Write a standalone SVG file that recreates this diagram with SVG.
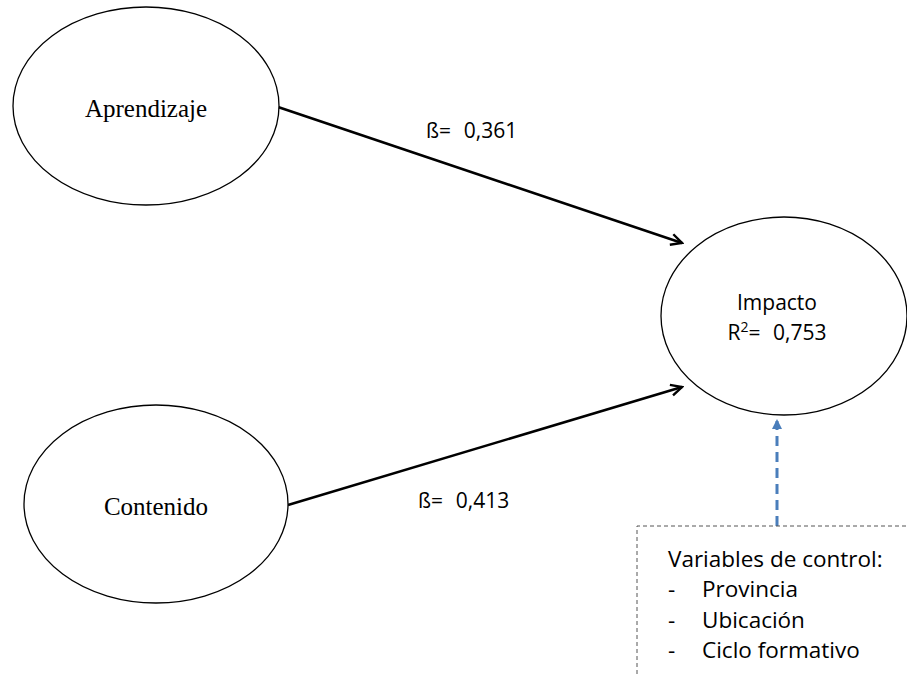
<svg xmlns="http://www.w3.org/2000/svg" width="907" height="674" viewBox="0 0 907 674">
<style>
.node{fill:#fff;stroke:#000;stroke-width:1.3}
.serif{font-family:"Liberation Serif","Times New Roman",serif;font-size:25px;fill:#000}
.sans{font-family:"Open Sans","Noto Sans","Liberation Sans",sans-serif;font-size:21px;fill:#000}
.box{font-family:"Open Sans","Noto Sans","Liberation Sans",sans-serif;font-size:22.5px;fill:#000}
.conn{stroke:#000;stroke-width:2.6;fill:none}
</style>
<defs>
<marker id="ah" markerWidth="14" markerHeight="14" refX="12" refY="7" orient="auto" markerUnits="userSpaceOnUse" viewBox="0 0 14 14">
<path d="M1,1.5 L12,7 L1,12.5" fill="none" stroke="#000" stroke-width="2.4"/>
</marker>
<marker id="bh" markerWidth="10" markerHeight="10" refX="8" refY="5" orient="auto" markerUnits="userSpaceOnUse" viewBox="0 0 10 10">
<path d="M0,0 L10,5 L0,10 Z" fill="#4a7ebb"/>
</marker>
</defs>
<rect width="907" height="674" fill="#fff"/>
<g id="connectors">
<line class="conn" x1="278" y1="107" x2="682" y2="243" marker-end="url(#ah)"/>
<line class="conn" x1="288" y1="505" x2="682" y2="387" marker-end="url(#ah)"/>
<line x1="777" y1="526" x2="777" y2="421" stroke="#4a7ebb" stroke-width="3" stroke-dasharray="10,6" marker-end="url(#bh)"/>
<text class="sans" x="426" y="138" font-size="20.5">ß=&#xF02D;0,361</text>
<text class="sans" x="418" y="508" font-size="20.5">ß=&#xF02D;0,413</text>
</g>
<g id="aprendizaje">
<ellipse class="node" cx="146" cy="106" rx="133" ry="99"/>
<text class="serif" x="146" y="117" text-anchor="middle">Aprendizaje</text>
</g>
<g id="contenido">
<ellipse class="node" cx="156" cy="504" rx="132" ry="99"/>
<text class="serif" x="156" y="515" text-anchor="middle">Contenido</text>
</g>
<g id="impacto">
<ellipse class="node" cx="784" cy="316" rx="123" ry="99"/>
<text class="sans" x="777" y="310" text-anchor="middle">Impacto</text>
<text class="sans" x="777" y="340" text-anchor="middle">R<tspan font-size="14" dy="-8">2</tspan><tspan dy="8">=&#xF02D;0,753</tspan></text>
</g>
<g id="control">
<path d="M637,674 L637,526 L907,526" fill="none" stroke="#555" stroke-width="1" stroke-dasharray="4,3"/>
<text class="box" x="668" y="567">Variables de control:</text>
<text class="box" x="668" y="597">-</text><text class="box" x="702" y="597">Provincia</text>
<text class="box" x="668" y="628">-</text><text class="box" x="702" y="628">Ubicación</text>
<text class="box" x="668" y="658">-</text><text class="box" x="702" y="658">Ciclo formativo</text>
</g>
</svg>
